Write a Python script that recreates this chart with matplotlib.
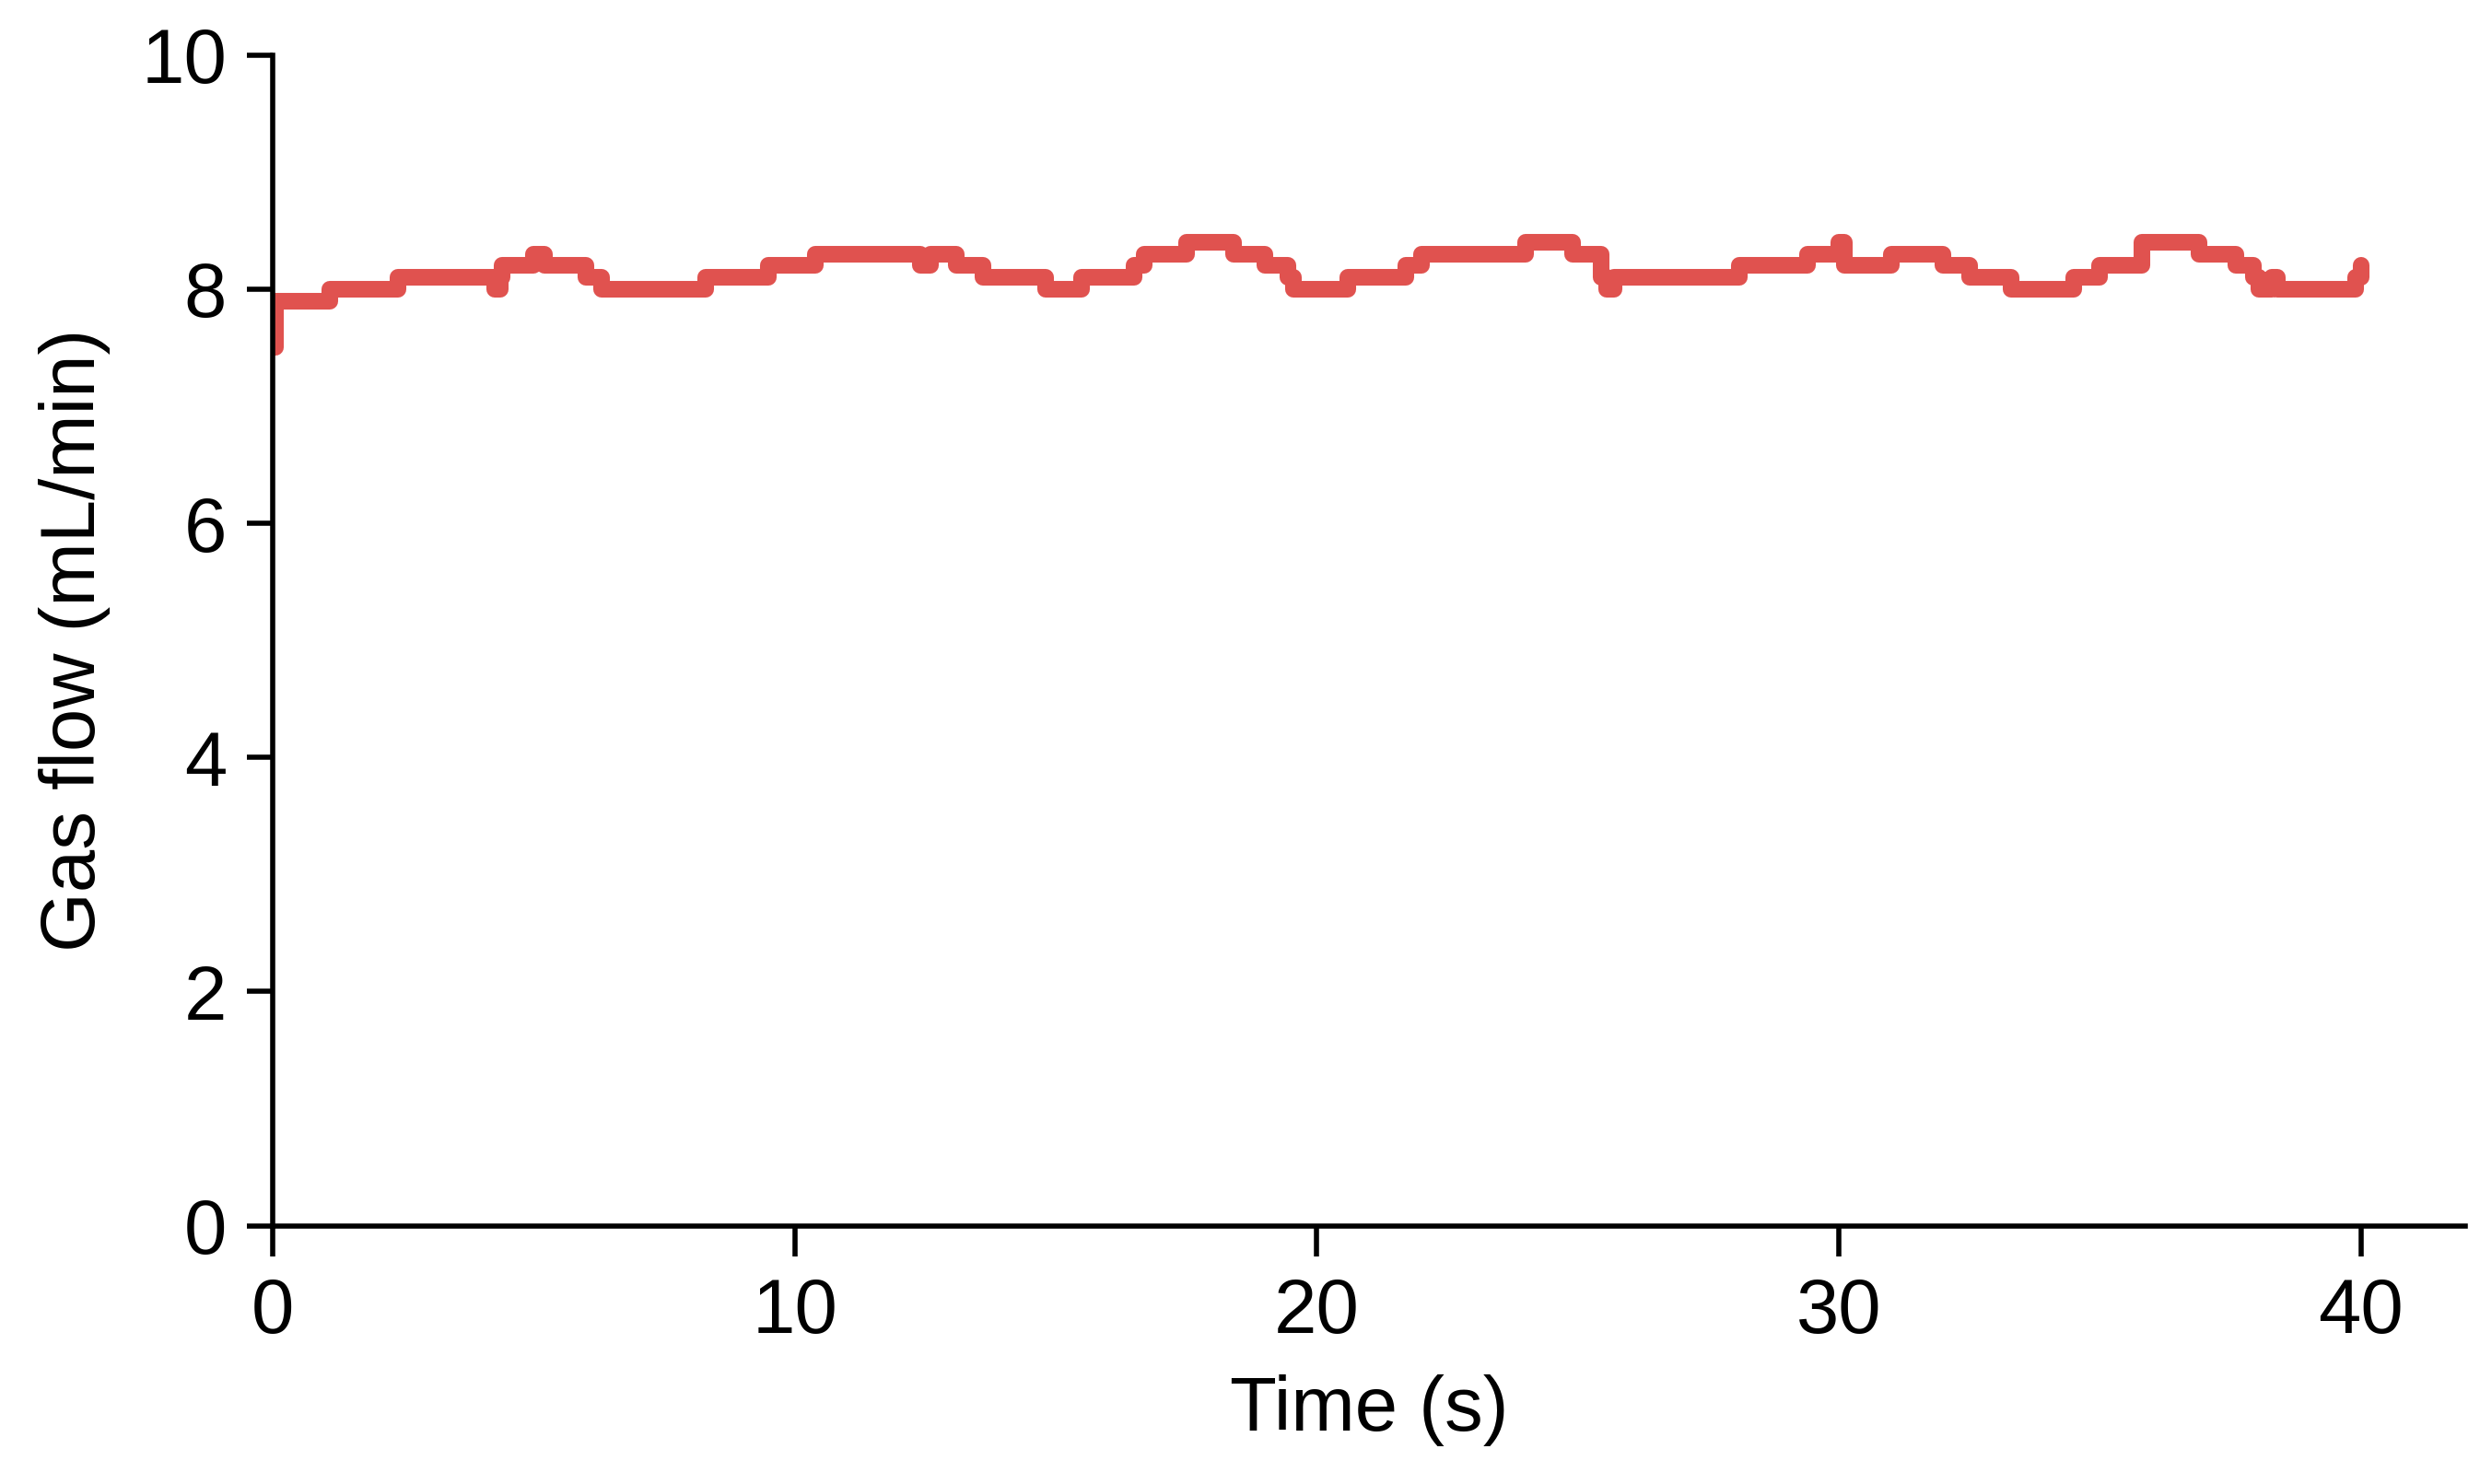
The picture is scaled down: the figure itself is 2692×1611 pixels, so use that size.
import matplotlib.pyplot as plt

plt.rcParams["font.family"] = ["Liberation Sans", "DejaVu Sans"]

# step breakpoints (time in s, flow in mL/min)
times = [0.0, 0.05, 1.1, 2.4, 4.25, 4.35, 4.4, 5.0, 5.2, 6.0, 6.3, 8.3, 9.5, 10.4,
         12.4, 12.6, 13.1, 13.6, 14.8, 15.5, 16.5, 16.7, 17.5, 18.4, 19.0, 19.45,
         19.55, 20.6, 21.7, 22.0, 23.6, 24.0, 24.9, 25.45, 25.55, 25.7, 27.3, 28.1,
         29.4, 30.0, 30.1, 31.0, 32.0, 32.5, 33.3, 34.5, 35.0, 35.8, 36.9, 37.6,
         37.95, 38.05, 38.3, 38.4, 39.9, 40.0]
flow = [7.5, 7.9, 8.0, 8.1, 8.0, 8.1, 8.2, 8.3, 8.2, 8.1, 8.0, 8.1, 8.2, 8.3,
        8.2, 8.3, 8.2, 8.1, 8.0, 8.1, 8.2, 8.3, 8.4, 8.3, 8.2, 8.1,
        8.0, 8.1, 8.2, 8.3, 8.3, 8.4, 8.3, 8.1, 8.0, 8.1, 8.1, 8.2,
        8.3, 8.4, 8.2, 8.3, 8.2, 8.1, 8.0, 8.1, 8.2, 8.4, 8.3, 8.2,
        8.1, 8.0, 8.1, 8.0, 8.1, 8.2]

fig = plt.figure(figsize=(13.46, 8.055), dpi=200)
ax = fig.add_axes([0.110, 0.174, 0.884, 0.789])
ax.plot(times, flow, drawstyle="steps-post", color="#e0524f", lw=6.5,
        solid_capstyle="round")

ax.set_xlim(0, 42)
ax.set_ylim(0, 10)
ax.set_xticks([0, 10, 20, 30, 40])
ax.set_yticks([0, 2, 4, 6, 8, 10])
for s in ("top", "right"):
    ax.spines[s].set_visible(False)
ax.spines["left"].set_position(("data", 0))
for s in ("left", "bottom"):
    ax.spines[s].set_linewidth(2)
ax.tick_params(direction="out", length=10, width=2, labelsize=30, pad=8)
ax.tick_params(axis="x", direction="out", length=12)
ax.tick_params(axis="y", direction="out", length=10)
ax.set_xlabel("Time (s)", fontsize=30, labelpad=10)
ax.set_ylabel("Gas flow (mL/min)", fontsize=30, labelpad=12)

fig.savefig("out.png", dpi=200)
